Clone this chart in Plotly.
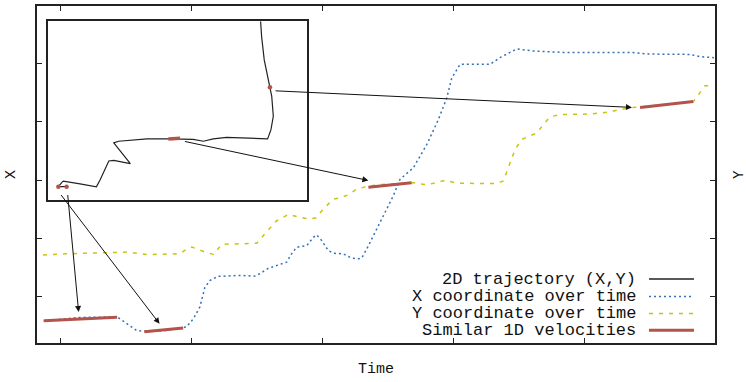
import plotly.graph_objects as go

# ---------------- data ----------------
# X coordinate over time
x_time = [43.8, 57.6, 71.8, 74.9, 79.4, 84.4, 90.1, 97.0, 98.5, 101.0, 103.4, 105.3, 107.3,
          110.3, 118.7, 124.4, 126.3, 129.4, 136.5, 138.4, 140.3, 144.2, 146.7, 148.0, 149.9,
          152.4, 154.3, 158.1, 161.3, 163.9, 165.2, 167.1, 169.6, 172.1, 177.2, 179.8, 184.9,
          190.0, 194.4, 197.6, 199.5, 202.7, 214.1, 217.9, 224.3, 230.7, 242.1, 267.6, 273.9,
          290.5, 294.3, 299.6]
x_vals = [0.591, 0.649, 0.659, 0.557, 0.421, 0.410, 0.424, 0.467, 0.501, 0.632, 0.830, 1.165,
          1.285, 1.353, 1.370, 1.358, 1.399, 1.489, 1.597, 1.740, 1.852, 1.881, 2.023, 2.063,
          1.966, 1.796, 1.750, 1.740, 1.665, 1.654, 1.671, 1.825, 2.052, 2.278, 2.733, 3.018,
          3.216, 3.614, 4.040, 4.409, 4.749, 4.988, 4.988, 5.102, 5.251, 5.216, 5.193, 5.193,
          5.165, 5.158, 5.119, 5.102]

# Y coordinate over time
y_time = [43.5, 52.6, 66.7, 75.6, 83.2, 95.8, 98.5, 100.3, 104.8, 108.6, 111.7, 122.5, 125.1,
          128.9, 132.7, 134.0, 137.1, 141.6, 145.4, 147.7, 150.5, 154.3, 156.9, 160.0, 163.2,
          166.4, 172.1, 184.9, 190.0, 197.0, 201.4, 216.7, 219.2, 221.1, 223.7, 226.2, 229.4,
          232.0, 234.5, 237.0, 240.8, 252.3, 259.9, 263.7, 268.8, 271.4, 291.7, 294.3, 296.2,
          299.6]
y_vals = [1.719, 1.740, 1.757, 1.770, 1.728, 1.741, 1.825, 1.856, 1.779, 1.728, 1.903, 1.920,
          1.920, 2.120, 2.307, 2.336, 2.415, 2.363, 2.336, 2.358, 2.507, 2.677, 2.699, 2.750,
          2.847, 2.887, 2.929, 2.960, 2.921, 3.001, 2.950, 2.943, 2.989, 3.216, 3.529, 3.700,
          3.756, 3.812, 3.955, 4.088, 4.126, 4.136, 4.170, 4.216, 4.250, 4.259, 4.347, 4.494,
          4.620, 4.625]

# Similar 1D velocity segments (start/end time and value)
seg_t0 = [43.8, 82.2, 167.7, 271.4]
seg_t1 = [71.8, 97.0, 184.2, 291.7]
seg_v0 = [0.591, 0.403, 2.882, 4.250]
seg_v1 = [0.654, 0.467, 2.960, 4.352]

# 2D trajectory (inset)
traj_x = [7.3, 4.1, 5.4, 6.0, 12.5, 18.8, 20.2, 22.2, 23.6, 25.5, 31.9, 30.6, 25.5, 27.4,
          34.5, 38.3, 46.6, 51.1, 56.2, 60.1, 63.9, 69.1, 76.8, 84.9, 86.2, 87.1, 86.5, 85.8,
          84.6, 83.6, 82.6, 82.2]
traj_y = [7.2, 7.2, 9.5, 10.3, 8.8, 7.1, 11.0, 16.9, 21.6, 22.0, 20.1, 22.5, 31.8, 32.7,
          33.4, 34.0, 34.0, 34.0, 33.7, 32.7, 34.0, 34.9, 34.6, 34.0, 39.2, 46.7, 57.8, 63.0,
          70.8, 78.3, 91.2, 100.0]
inset_seg_x = [46.6, 51.1]
inset_seg_y = [34.0, 34.3]
inset_dot_x = [4.1, 7.3, 85.8]
inset_dot_y = [7.2, 7.2, 63.0]

# arrows: tail (in inset location, main coords) -> head (main coords)
arrow_tail_t = [131.7, 97.1, 52.9, 50.0]
arrow_tail_v = [4.535, 3.671, 2.773, 2.773]
arrow_head_t = [268.3, 167.7, 57.1, 88.0]
arrow_head_v = [4.250, 2.997, 0.744, 0.540]

x_ticks = [50, 100, 150, 200, 250, 300]
y_ticks = [1, 2, 3, 4, 5]

legend_labels = ["2D trajectory (X,Y)", "X coordinate over time",
                 "Y coordinate over time", "Similar 1D velocities"]

# ---------------- style ----------------
FONT = "Liberation Mono"
C_BLACK = "#222222"
C_BLUE = "#3570b2"
C_YEL = "#c8c412"
C_RED = "#b4534b"
DASH_BLUE = "2px,3px"
DASH_YEL = "4px,6px"

fig = go.Figure()

# main series
fig.add_trace(go.Scatter(x=x_time, y=x_vals, mode="lines", name=legend_labels[1],
                         line=dict(color=C_BLUE, width=1.5, dash=DASH_BLUE),
                         showlegend=False, xaxis="x", yaxis="y"))
fig.add_trace(go.Scatter(x=y_time, y=y_vals, mode="lines", name=legend_labels[2],
                         line=dict(color=C_YEL, width=1.5, dash=DASH_YEL),
                         showlegend=False, xaxis="x", yaxis="y"))
seg_x, seg_y = [], []
for a, b, c, d in zip(seg_t0, seg_t1, seg_v0, seg_v1):
    seg_x += [a, b, None]
    seg_y += [c, d, None]
fig.add_trace(go.Scatter(x=seg_x, y=seg_y, mode="lines", name=legend_labels[3],
                         line=dict(color=C_RED, width=3), showlegend=False,
                         xaxis="x", yaxis="y"))

# inset
fig.add_trace(go.Scatter(x=traj_x, y=traj_y, mode="lines", name=legend_labels[0],
                         line=dict(color=C_BLACK, width=1.2), showlegend=False,
                         xaxis="x2", yaxis="y2"))
fig.add_trace(go.Scatter(x=inset_seg_x, y=inset_seg_y, mode="lines",
                         line=dict(color=C_RED, width=3.5), showlegend=False,
                         xaxis="x2", yaxis="y2"))
fig.add_trace(go.Scatter(x=inset_dot_x, y=inset_dot_y, mode="markers",
                         marker=dict(color=C_RED, size=4.5), showlegend=False,
                         xaxis="x2", yaxis="y2"))

# arrows
for tt, tv, ht, hv in zip(arrow_tail_t, arrow_tail_v, arrow_head_t, arrow_head_v):
    fig.add_annotation(x=ht, y=hv, ax=tt, ay=tv, xref="x", yref="y", axref="x", ayref="y",
                       showarrow=True, arrowhead=2, arrowsize=1.2, arrowwidth=1,
                       arrowcolor="#111111", text="", standoff=0)

# custom gnuplot-like legend (text, then sample on the right)
leg_y = [0.1897, 0.1378, 0.0876, 0.0375]
leg_styles = [dict(color=C_BLACK, width=1.5),
              dict(color=C_BLUE, width=1.5, dash=DASH_BLUE),
              dict(color=C_YEL, width=1.5, dash=DASH_YEL),
              dict(color=C_RED, width=3)]
for lab, yy, st in zip(legend_labels, leg_y, leg_styles):
    fig.add_annotation(x=0.886, y=yy, xref="paper", yref="paper", text=lab,
                       showarrow=False, xanchor="right", yanchor="middle", height=15,
                       font=dict(family=FONT, size=17, color="#111111"))
    fig.add_shape(type="line", xref="paper", yref="paper", x0=0.9027, x1=0.969,
                  y0=yy, y1=yy, line=st)

# axis labels
fig.add_annotation(x=-0.0373, y=0.5006, xref="paper", yref="paper", text="X",
                   showarrow=False, textangle=-90, xanchor="center", yanchor="middle",
                   font=dict(family=FONT, size=15, color="#111"))
fig.add_annotation(x=1.0365, y=0.5006, xref="paper", yref="paper", text="Y",
                   showarrow=False, textangle=-90, xanchor="center", yanchor="middle",
                   font=dict(family=FONT, size=14, color="#111"))
fig.add_annotation(x=0.5, y=-0.0796, xref="paper", yref="paper", text="Time",
                   showarrow=False, xanchor="center", yanchor="middle",
                   font=dict(family=FONT, size=15, color="#111"))

axis_common = dict(showline=True, linecolor=C_BLACK, linewidth=1.5, mirror="ticks",
                   ticks="inside", ticklen=5, tickwidth=1, tickcolor=C_BLACK,
                   showticklabels=False, showgrid=False, zeroline=False)

fig.update_layout(
    width=746, height=382,
    margin=dict(l=37, r=31, t=4, b=39),
    paper_bgcolor="white", plot_bgcolor="white",
    showlegend=False,
    xaxis=dict(range=[41.22, 300], tickvals=x_ticks, **axis_common),
    yaxis=dict(range=[0.211, 5.988], tickvals=y_ticks, **axis_common),
    xaxis2=dict(domain=[0.0158, 0.3978], anchor="y2", range=[0, 100], showline=True,
                linecolor=C_BLACK, linewidth=1.5, mirror=True, ticks="",
                showticklabels=False, showgrid=False, zeroline=False),
    yaxis2=dict(domain=[0.4257, 0.9549], anchor="x2", range=[0, 100], showline=True,
                linecolor=C_BLACK, linewidth=1.5, mirror=True, ticks="",
                showticklabels=False, showgrid=False, zeroline=False),
    font=dict(family=FONT),
)

fig.write_html("out.html", config={"displayModeBar": False},
               post_script="document.body.style.margin='0';document.body.style.overflow='hidden';")
